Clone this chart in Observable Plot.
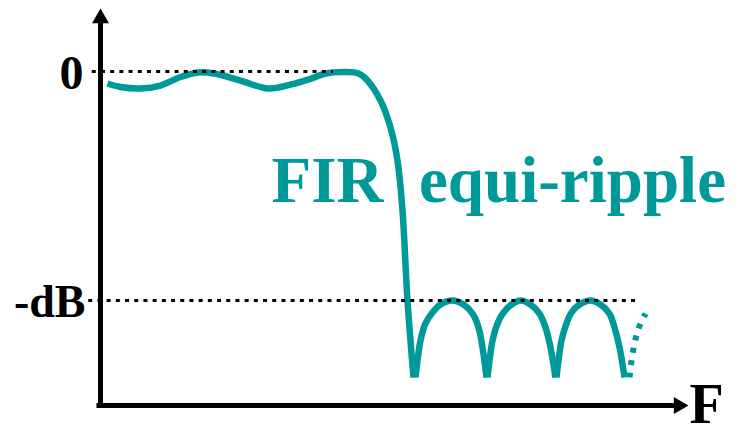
<!DOCTYPE html>
<html>
<head>
<meta charset="utf-8">
<script src="https://cdn.jsdelivr.net/npm/d3@7"></script>
<script src="https://cdn.jsdelivr.net/npm/@observablehq/plot@0.6"></script>
<style>
  html, body { margin: 0; padding: 0; background: #ffffff; }
  #chart { width: 740px; height: 424px; }
</style>
</head>
<body>
<div id="chart"></div>
<script>
// ---- data (normalized frequency F, magnitude in dB; "-dB" level taken as -40) ----
const passF  = [0.0119, 0.0340, 0.0680, 0.1020, 0.1361, 0.1667, 0.1956, 0.2381, 0.2857, 0.3231, 0.3571, 0.3827, 0.4167, 0.4388, 0.4541, 0.4762, 0.4932, 0.5051, 0.5136, 0.5221, 0.5323];
const passDb = [-2.10, -2.71, -2.97, -2.45, -0.96, -0.17, -0.40, -1.60, -2.97, -2.30, -1.30, -0.35, -0.09, -0.35, -1.57, -5.07, -9.78, -15.55, -24.28, -40.00, -53.45];

const lobe1F  = [0.5357, 0.5391, 0.5442, 0.5527, 0.5646, 0.5782, 0.5986, 0.6173, 0.6327, 0.6429, 0.6497, 0.6565];
const lobe2F  = [0.6582, 0.6616, 0.6667, 0.6752, 0.6854, 0.6990, 0.7143, 0.7313, 0.7466, 0.7568, 0.7653, 0.7738];
const lobe3F  = [0.7755, 0.7789, 0.7840, 0.7925, 0.8010, 0.8146, 0.8333, 0.8503, 0.8656, 0.8741, 0.8827, 0.8912];
const lobeDb  = [-53.45, -50.48, -47.00, -44.00, -42.10, -40.70, -40.00, -40.70, -42.30, -44.70, -48.20, -53.45];

const tailF  = [0.8997, 0.9031, 0.9082, 0.9150, 0.9269];
const tailDb = [-53.45, -50.48, -47.50, -44.90, -42.30];

const levelDb     = [0, -40];
const levelLabels = ["0", "-dB"];
const levelFrom   = [-0.014, -0.020];
const levelTo     = [0.396, 0.915];

const axisLabel = "F";
const titleLeft = "FIR";
const titleRight = "equi-ripple";

const fMax = 1, dbMin = -58.34, dbMax = 11.0;

// ---- tables built from the arrays ----
const curveRows = [
  ...passF.map((f, i) => ({ f, db: passDb[i], seg: "pass" })),
  ...lobe1F.map((f, i) => ({ f, db: lobeDb[i], seg: "lobe1" })),
  ...lobe2F.map((f, i) => ({ f, db: lobeDb[i], seg: "lobe2" })),
  ...lobe3F.map((f, i) => ({ f, db: lobeDb[i], seg: "lobe3" }))
];
const tailRows = tailF.map((f, i) => ({ f, db: tailDb[i] }));
const levelRows = levelDb.map((db, i) => ({ db, label: levelLabels[i], x1: levelFrom[i], x2: levelTo[i] }));

const teal = "#009999";
const serif = "'Liberation Serif', 'Times New Roman', 'DejaVu Serif', serif";

const chart = Plot.plot({
  width: 740,
  height: 424,
  marginLeft: 100,
  marginRight: 52,
  marginTop: 8,
  marginBottom: 19,
  x: { domain: [0, fMax], axis: null },
  y: { domain: [dbMin, dbMax], axis: null },
  style: { background: "#ffffff", overflow: "visible", fontFamily: serif },
  marks: [
    // axes
    Plot.ruleX([0], { y1: dbMin - 0.35, y2: dbMax - 2.5, stroke: "black", strokeWidth: 5, clip: false }),
    Plot.ruleY([dbMin], { x1: -0.006, x2: fMax - 0.02, stroke: "black", strokeWidth: 5, clip: false }),
    Plot.dot([{ f: 0, db: dbMax }], { x: "f", y: "db", symbol: "triangle", r: 6.3, fill: "black", stroke: "none", dy: 9.8 }),
    Plot.dot([{ f: fMax, db: dbMin }], { x: "f", y: "db", symbol: "triangle", r: 6.3, rotate: 90, fill: "black", stroke: "none", dx: -9.8 }),
    // response curve
    Plot.line(curveRows, { x: "f", y: "db", z: "seg", curve: "catmull-rom", stroke: teal, strokeWidth: 6.5, strokeLinecap: "butt", strokeLinejoin: "round" }),
    Plot.line(tailRows, { x: "f", y: "db", curve: "catmull-rom", stroke: teal, strokeWidth: 6, strokeDasharray: "5,7.5", strokeLinecap: "butt" }),
    // dotted reference levels
    Plot.ruleY(levelRows, { y: "db", x1: "x1", x2: "x2", stroke: "black", strokeWidth: 3, strokeDasharray: "4,5.2" }),
    // level labels
    Plot.text([levelRows[0]], { x: 0, y: "db", text: "label", textAnchor: "end", lineAnchor: "middle", dx: -17, dy: 2, fontSize: 48, fontWeight: "bold", fill: "black", fontFamily: serif }),
    Plot.text([levelRows[1]], { x: 0, y: "db", text: "label", textAnchor: "end", lineAnchor: "middle", dx: -15, dy: 2, fontSize: 46, fontWeight: "bold", fill: "black", fontFamily: serif }),
    // axis label
    Plot.text([axisLabel], { x: fMax, y: dbMin, text: d => d, textAnchor: "start", lineAnchor: "bottom", dx: 1, dy: 17, fontSize: 56, fontWeight: "bold", fill: "black", fontFamily: serif }),
    // title pieces
    Plot.text([titleLeft], { x: 0.2908, y: -22.88, text: d => d, textAnchor: "start", lineAnchor: "bottom", fontSize: 65, fontWeight: "bold", fill: teal, fontFamily: serif }),
    Plot.text([titleRight], { x: 0.5417, y: -22.88, text: d => d, textAnchor: "start", lineAnchor: "bottom", fontSize: 65, fontWeight: "bold", fill: teal, fontFamily: serif })
  ]
});
document.getElementById("chart").appendChild(chart);
</script>
</body>
</html>
